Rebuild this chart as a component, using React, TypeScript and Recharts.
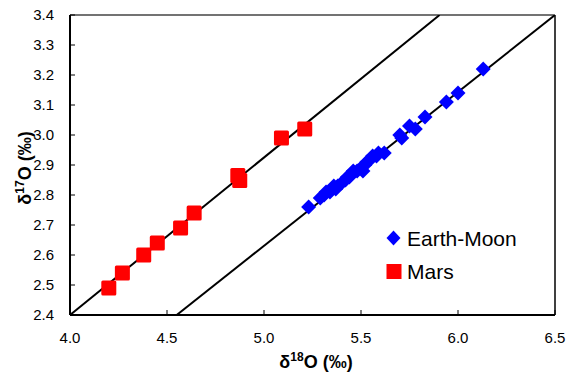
import React from "react";
import {
  ScatterChart,
  Scatter,
  XAxis,
  YAxis,
  ReferenceLine,
} from "recharts";

const xTicks = [4.0, 4.5, 5.0, 5.5, 6.0, 6.5];
const yTicks = [2.4, 2.5, 2.6, 2.7, 2.8, 2.9, 3.0, 3.1, 3.2, 3.3, 3.4];

const earthMoonX = [
  5.23, 5.29, 5.31, 5.32, 5.34, 5.35, 5.36, 5.37, 5.38, 5.4, 5.42, 5.43, 5.44,
  5.45, 5.46, 5.48, 5.5, 5.51, 5.52, 5.53, 5.55, 5.56, 5.58, 5.59, 5.62, 5.7,
  5.71, 5.75, 5.78, 5.83, 5.94, 6.0, 6.13,
];
const earthMoonY = [
  2.76, 2.79, 2.8, 2.81, 2.81, 2.82, 2.83, 2.82, 2.83, 2.84, 2.85, 2.86, 2.86,
  2.87, 2.88, 2.88, 2.89, 2.88, 2.9, 2.91, 2.92, 2.93, 2.93, 2.94, 2.94, 3.0,
  2.99, 3.03, 3.02, 3.06, 3.11, 3.14, 3.22,
];

const marsX = [4.2, 4.27, 4.38, 4.45, 4.57, 4.64, 4.865, 4.875, 5.09, 5.21];
const marsY = [2.49, 2.54, 2.6, 2.64, 2.69, 2.74, 2.865, 2.848, 2.99, 3.02];

// fractionation lines (endpoints)
const marsLine = [
  { x: 4.0, y: 2.4 },
  { x: 5.905, y: 3.4 },
];
const earthLine = [
  { x: 4.55, y: 2.4 },
  { x: 6.5, y: 3.4 },
];

const earthMoon = earthMoonX.map((x, i) => ({ x, y: earthMoonY[i] }));
const mars = marsX.map((x, i) => ({ x, y: marsY[i] }));

const FONT = "'Liberation Sans', Arial, sans-serif";

const Diamond = (props: any) => {
  const { cx, cy } = props;
  const r = 7.5;
  return (
    <polygon
      points={`${cx},${cy - r} ${cx + r},${cy} ${cx},${cy + r} ${cx - r},${cy}`}
      fill="#0000FF"
    />
  );
};

const Square = (props: any) => {
  const { cx, cy } = props;
  const s = 15;
  return <rect x={cx - s / 2} y={cy - s / 2} width={s} height={s} rx={1.5} fill="#FF0000" />;
};

export default function App() {
  const tick = { fill: "#000", fontSize: 15, fontFamily: FONT };
  return (
    <div style={{ position: "absolute", left: 0, top: 0, width: 568, height: 375 }}>
      <ScatterChart
        width={568}
        height={375}
        margin={{ top: 15, right: 13, bottom: 0, left: 0 }}
      >
        <XAxis
          type="number"
          dataKey="x"
          domain={[4.0, 6.5]}
          ticks={xTicks}
          tickFormatter={(v) => Number(v).toFixed(1)}
          height={60}
          tick={tick}
          tickSize={-5}
          tickMargin={22}
          axisLine={{ stroke: "#000", strokeWidth: 2 }}
          tickLine={{ stroke: "#000", strokeWidth: 1 }}
          allowDataOverflow
        />
        <YAxis
          type="number"
          dataKey="y"
          domain={[2.4, 3.4]}
          ticks={yTicks}
          tickFormatter={(v) => Number(v).toFixed(1)}
          width={70}
          tick={tick}
          tickSize={-5}
          tickMargin={21}
          axisLine={{ stroke: "#000", strokeWidth: 2 }}
          tickLine={{ stroke: "#000", strokeWidth: 1 }}
          allowDataOverflow
        />
        <ReferenceLine y={3.4} stroke="#444" strokeWidth={1.5} />
        <ReferenceLine x={6.5} stroke="#000" strokeWidth={1.5} />
        <ReferenceLine segment={marsLine} stroke="#000" strokeWidth={2} ifOverflow="hidden" />
        <ReferenceLine segment={earthLine} stroke="#000" strokeWidth={2} ifOverflow="hidden" />
        <Scatter name="Mars" data={mars} shape={Square} isAnimationActive={false} />
        <Scatter name="Earth-Moon" data={earthMoon} shape={Diamond} isAnimationActive={false} />
      </ScatterChart>
      <svg
        width={568}
        height={375}
        style={{ position: "absolute", left: 0, top: 0, pointerEvents: "none", fontFamily: FONT }}
      >
        <g transform="translate(385,229)">
          <polygon points="8.5,1.5 15.5,9 8.5,16.5 1.5,9" fill="#0000FF" />
          <text x={22} y={17} fontSize={21} fill="#000">
            Earth-Moon
          </text>
          <rect x={1.5} y={35} width={15} height={15} fill="#FF0000" />
          <text x={22} y={50} fontSize={21} fill="#000">
            Mars
          </text>
        </g>
        <text x={316} y={368} textAnchor="middle" fontSize={18} fontWeight="bold" fill="#000">
          δ<tspan fontSize={12} dy={-7}>18</tspan>
          <tspan dy={7}>O (‰)</tspan>
        </text>
        <text
          transform="rotate(-90)"
          x={-168}
          y={31}
          textAnchor="middle"
          fontSize={18}
          fontWeight="bold"
          fill="#000"
        >
          δ<tspan fontSize={12} dy={-7}>17</tspan>
          <tspan dy={7}>O (‰)</tspan>
        </text>
      </svg>
    </div>
  );
}
